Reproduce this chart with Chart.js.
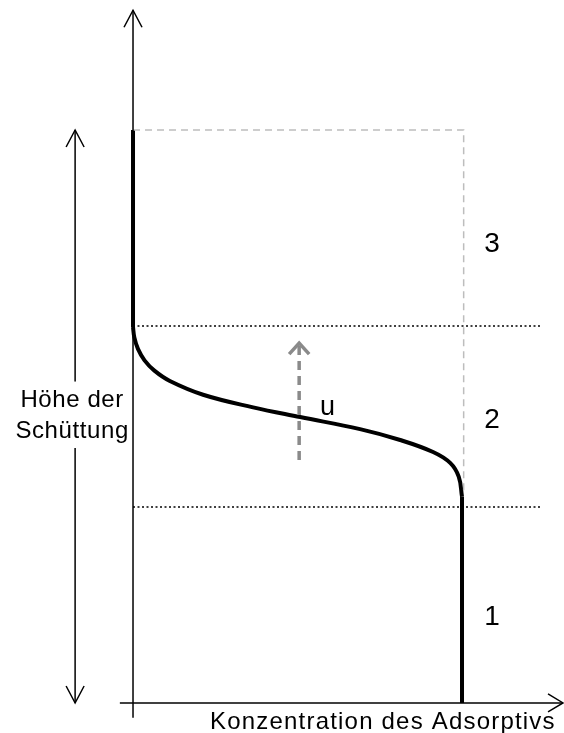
<!DOCTYPE html>
<html>
<head>
<meta charset="utf-8">
<script src="https://cdn.jsdelivr.net/npm/chart.js@4/dist/chart.umd.min.js"></script>
<style>
  html, body { margin: 0; padding: 0; background: #fff; }
  #chart { display: block; }
</style>
</head>
<body>
<canvas id="chart" width="564" height="733"></canvas>
<script>
// concentration (0..1 = c0) vs. bed height (0..1 = top of bed)
const bedTop = 1.0;
const zoneBounds = [0.342, 0.658];
const frontC = [0, 0.004, 0.015, 0.035, 0.065, 0.112, 0.213, 0.365, 0.508, 0.690, 0.812, 0.912, 0.964, 0.990, 1.0];
const frontH = [0.656, 0.638, 0.618, 0.598, 0.580, 0.562, 0.538, 0.516, 0.499, 0.478, 0.459, 0.438, 0.419, 0.395, 0.36];
const zoneLabels = ['1', '2', '3'];
const zoneLabelH = [0.136, 0.480, 0.787];
const xTitle = 'Konzentration des Adsorptivs';
const yTitle = ['Höhe der', 'Schüttung'];

const font = "'Liberation Sans', Arial, sans-serif";
const pts = (xs, ys) => xs.map((v, i) => ({ x: v, y: ys[i] }));
const line = (data, extra) => Object.assign({
  data, showLine: true, pointRadius: 0, borderColor: '#000', borderWidth: 1.5,
  tension: 0, clip: false, fill: false
}, extra);

const datasets = [
  // axes
  line(pts([0, 0], [-0.026, 1.209])),
  line(pts([-0.04, 1.307], [0, 0])),
  // height double arrow
  line(pts([-0.176, -0.176], [0, bedTop])),
  // dashed box of the loaded bed
  line(pts([0, 1.005, 1.005], [bedTop, bedTop, 0.37]), { borderColor: '#bdbdbd', borderDash: [7, 5] }),
  // zone borders
  line(pts([0, 1.237], [zoneBounds[0], zoneBounds[0]]), { borderDash: [2, 2.5] }),
  line(pts([0, 1.237], [zoneBounds[1], zoneBounds[1]]), { borderDash: [2, 2.5] }),
  // flow direction u
  line(pts([0.505, 0.505], [0.424, 0.628]), { borderColor: '#8a8a8a', borderWidth: 3.5, borderDash: [9, 6] }),
  // concentration profile
  line(pts([0, 0], [bedTop, frontH[0]]), { borderWidth: 4 }),
  line(pts(frontC, frontH), { borderWidth: 4, tension: 0.4 }),
  line(pts([1.0, 1.0], [frontH[frontH.length - 1], 0]), { borderWidth: 4 })
];

function head(ctx, tx, ty, fx, fy, len, half, color, width) {
  const dx = tx - fx, dy = ty - fy, d = Math.hypot(dx, dy);
  const ux = dx / d, uy = dy / d;
  ctx.save();
  ctx.strokeStyle = color;
  ctx.lineWidth = width;
  ctx.beginPath();
  ctx.moveTo(tx - ux * len - uy * half, ty - uy * len + ux * half);
  ctx.lineTo(tx, ty);
  ctx.lineTo(tx - ux * len + uy * half, ty - uy * len - ux * half);
  ctx.stroke();
  ctx.restore();
}

const overlay = {
  id: 'overlay',
  afterDatasetsDraw(chart) {
    const { ctx, scales: { x, y } } = chart;
    const px = v => x.getPixelForValue(v), py = v => y.getPixelForValue(v);

    head(ctx, px(0), py(1.209), px(0), py(0), 17, 9, '#000', 1.5);
    head(ctx, px(1.307), py(0), px(0), py(0), 15, 9, '#000', 1.5);
    head(ctx, px(-0.176), py(bedTop), px(-0.176), py(0), 17, 9, '#000', 1.5);
    head(ctx, px(-0.176), py(0), px(-0.176), py(bedTop), 17, 9, '#000', 1.5);
    head(ctx, px(0.505), py(0.628), px(0.505), py(0.424), 11, 10, '#8a8a8a', 3.5);

    ctx.save();
    ctx.textBaseline = 'alphabetic';

    // y title, blanking the double arrow behind it
    ctx.fillStyle = '#fff';
    ctx.fillRect(px(-0.176) - 4, py(0.561), 8, py(0.445) - py(0.561));
    ctx.fillStyle = '#000';
    ctx.font = '24px ' + font;
    ctx.letterSpacing = '0.6px';
    ctx.textAlign = 'center';
    ctx.fillText(yTitle[0], px(-0.185), py(0.517));
    ctx.fillText(yTitle[1], px(-0.185), py(0.462));

    ctx.letterSpacing = '1.2px';
    ctx.textAlign = 'left';
    ctx.fillText(xTitle, px(0.234), py(-0.045));

    ctx.letterSpacing = '0px';
    ctx.font = '28px ' + font;
    ctx.textAlign = 'center';
    zoneLabels.forEach((t, i) => ctx.fillText(t, px(1.091), py(zoneLabelH[i])));
    ctx.font = '27px ' + font;
    ctx.textAlign = 'left';
    ctx.fillText('u', px(0.568), py(0.503));
    ctx.restore();
  }
};

new Chart(document.getElementById('chart'), {
  type: 'scatter',
  data: { datasets },
  options: {
    responsive: false,
    animation: false,
    layout: { padding: 0 },
    plugins: { legend: { display: false }, tooltip: { enabled: false } },
    scales: {
      x: { type: 'linear', display: false, min: -0.4043, max: 1.3100 },
      y: { type: 'linear', display: false, min: -0.0524, max: 1.2269 }
    }
  },
  plugins: [overlay]
});
</script>
</body>
</html>
